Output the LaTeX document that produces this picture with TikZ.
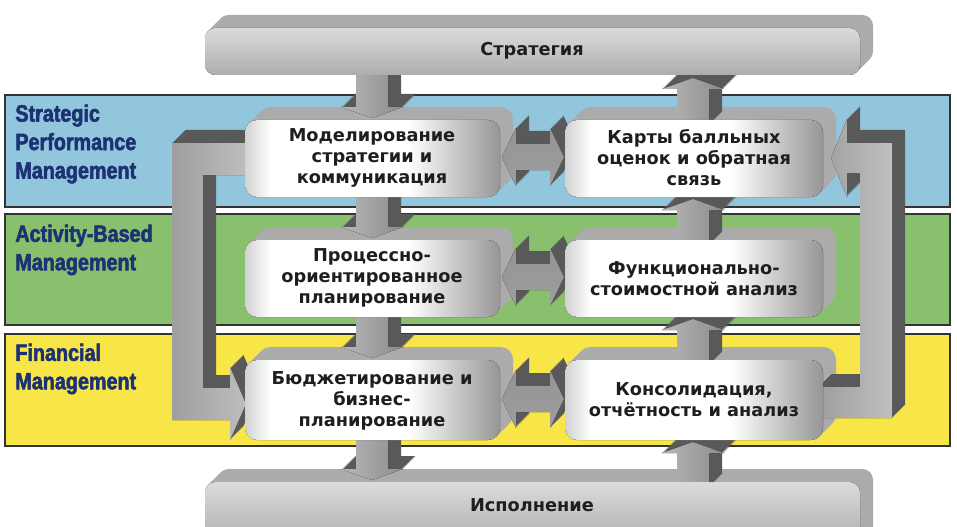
\documentclass[tikz,border=0pt]{standalone}
\usepackage{fontspec}
\setmainfont{DejaVu Sans}
\newfontfamily\lblfont[FakeStretch=0.84,FakeBold=2.2]{Liberation Sans}
\definecolor{bandblue}{RGB}{146,198,221}
\definecolor{bandgreen}{RGB}{136,192,110}
\definecolor{bandyellow}{RGB}{248,230,72}
\definecolor{lblblue}{RGB}{28,50,115}
\definecolor{textdark}{RGB}{30,30,30}
\definecolor{bsA}{RGB}{210,210,210}
\definecolor{bsC}{RGB}{150,150,150}
\pgfdeclarehorizontalshading{boxsh}{100bp}{color(0bp)=(bsA); color(25bp)=(bsA); color(30bp)=(white); color(57bp)=(white); color(75bp)=(bsC); color(100bp)=(bsC)}
\newcommand\solidext[2]{\foreach \k in {1,...,13}{\fill[#2,shift={(\k,-\k)}] #1;}}
\newcommand\darr[3]{%
  \def\dpath{(#1-16,#2) -- (#1+16,#2) -- (#1+16,#3-11) -- (#1+31,#3-11) -- (#1,#3) -- (#1-31,#3-11) -- (#1-16,#3-11) -- cycle}%
  \solidext{\dpath}{arrext}%
  \fill[varrfront] \dpath;}
\newcommand\uarr[3]{%
  \def\dpath{(#1-16,#2) -- (#1+16,#2) -- (#1+16,#3+11) -- (#1+31,#3+11) -- (#1,#3) -- (#1-31,#3+11) -- (#1-16,#3+11) -- cycle}%
  \solidext{\dpath}{arrext}%
  \fill[varrfront] \dpath;}
\newcommand\harr[3]{%
  \def\dpath{(#1,#3) -- (#1+14,#3-29) -- (#1+14,#3-13) -- (#2-14,#3-13) -- (#2-14,#3-29) -- (#2,#3) -- (#2-14,#3+29) -- (#2-14,#3+13) -- (#1+14,#3+13) -- (#1+14,#3+29) -- cycle}%
  \solidext{\dpath}{arrext}%
  \fill[harrfront] \dpath;}
\begin{document}
\begin{tikzpicture}[x=0.02cm,y=-0.02cm,
  band/.style={draw=black!80,line width=0.7pt},
  boxext/.style={fill=black!33,rounded corners=7pt},
  arrext/.style={fill=black!65},
  varrfront/.style={left color=black!28,right color=black!45},
  harrfront/.style={top color=black!42,middle color=black!18,bottom color=black!38},
  loopfront/.style={left color=black!38,right color=black!25},
  boxfront/.style={shading=boxsh,rounded corners=7pt},
  barfront/.style={top color=black!14,middle color=white,bottom color=black!32,rounded corners=6pt},
  boxtext/.style={font=\fontsize{10.1}{11.9}\selectfont\bfseries,text=textdark,align=center,inner sep=0pt},
  lbl/.style={font=\lblfont\bfseries\fontsize{13.4}{16.2}\selectfont,text=lblblue,align=left,anchor=west,inner sep=0pt}]
\useasboundingbox (0,0) rectangle (957,527);
\clip (0,0) rectangle (957,527);
% bands
\draw[band,fill=bandblue] (5,95) rectangle (950,207);
\draw[band,fill=bandgreen] (5,214) rectangle (950,325);
\draw[band,fill=bandyellow] (5,334) rectangle (950,446);
% extrusions of bars and boxes
\foreach \xa/\ya/\xb/\yb in {205/28/860/75,205/482/860/560}{%
  \foreach \k in {1,...,13}{\fill[boxext,rounded corners=6pt] (\xa+\k,\ya-\k) rectangle (\xb+\k,\yb-\k);}}
\foreach \xa/\ya/\xb/\yb in {245/120/500/197,565/120/823/197,245/240/500/317,565/240/823/317,245/360/500/440,565/360/823/440}{%
  \foreach \k in {1,...,13}{\fill[boxext] (\xa+\k,\ya-\k) rectangle (\xb+\k,\yb-\k);}}
% loop arrows
\def\loopL{(250,143) -- (172,143) -- (172,420) -- (230,420) -- (230,440) -- (246,404) -- (230,367) -- (230,388) -- (203,388) -- (203,175) -- (250,175) -- cycle}
\solidext{\loopL}{arrext}
\fill[loopfront] \loopL;
\def\loopR{(892,143) -- (847,143) -- (847,119) -- (831,158) -- (847,197) -- (847,173) -- (860,173) -- (860,387) -- (818,387) -- (818,418) -- (892,418) -- cycle}
\solidext{\loopR}{arrext}
\fill[loopfront] \loopR;
% vertical arrows
\darr{372}{70}{118}
\darr{372}{192}{238}
\darr{372}{312}{358}
\darr{372}{435}{480}
\uarr{693}{125}{78}
\uarr{693}{245}{199}
\uarr{693}{365}{319}
\uarr{693}{487}{442}
% horizontal double arrows
\harr{502}{564}{157}
\harr{502}{564}{277}
\harr{502}{564}{399}
% fronts
\fill[barfront] (205,28) rectangle (860,75);
\fill[barfront] (205,482) rectangle (860,545);
\fill[boxfront] (245,120) rectangle (500,197);
\fill[boxfront] (565,120) rectangle (823,197);
\fill[boxfront] (245,240) rectangle (500,317);
\fill[boxfront] (565,240) rectangle (823,317);
\fill[boxfront] (245,360) rectangle (500,440);
\fill[boxfront] (565,360) rectangle (823,440);
% texts
\node[boxtext] (strat) at (532,51) {Стратегия};
\node[boxtext] (exec) at (532,505) {Исполнение};
\node[boxtext] (t1) at (372,158) {Моделирование\\стратегии и\\коммуникация};
\node[boxtext] (t2) at (694,158) {Карты балльных\\оценок и обратная\\связь};
\node[boxtext] (t3) at (372,278) {Процессно-\\ориентированное\\планирование};
\node[boxtext] (t4) at (694,279) {Функционально-\\стоимостной анализ};
\node[boxtext] (t5) at (372,401) {Бюджетирование и\\бизнес-\\планирование};
\node[boxtext] (t6) at (694,400) {Консолидация,\\отчётность и анализ};
\node[lbl] (lab1) at (15,144) {Strategic\\Performance\\Management};
\node[lbl] (lab2) at (15,250) {Activity-Based\\Management};
\node[lbl] (lab3) at (15,369) {Financial\\Management};
\end{tikzpicture}
\end{document}
